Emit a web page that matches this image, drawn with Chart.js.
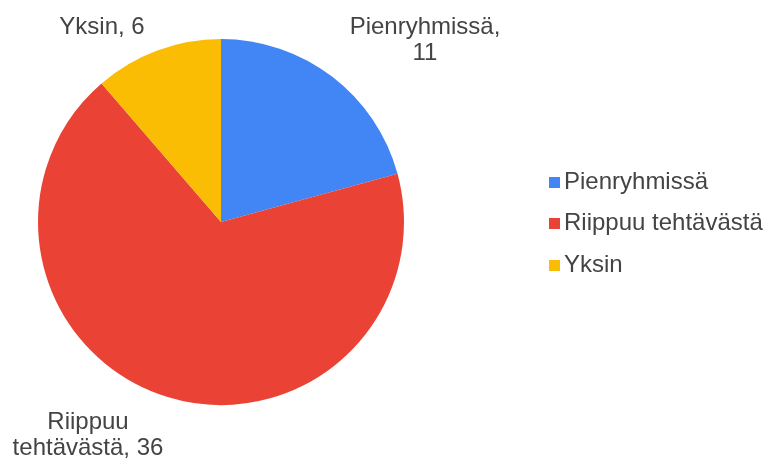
<!DOCTYPE html>
<html><head><meta charset="utf-8">
<script src="https://cdn.jsdelivr.net/npm/chart.js@4"></script>
<style>html,body{margin:0;padding:0;background:#fff}#wrap{width:765px;height:460px}</style>
</head><body><div id="wrap"><canvas id="c" width="765" height="460"></canvas></div>
<script>
const categories = ["Pienryhmissä", "Riippuu tehtävästä", "Yksin"];
const values = [11, 36, 6];
const colors = ["#4285F4", "#EA4335", "#FBBC04"];
const dataLabelLines = [["Pienryhmissä,", "11"], ["Riippuu", "tehtävästä, 36"], ["Yksin, 6"]];

const FONT = '24px "Liberation Sans", Arial, sans-serif';

const labelPlugin = {
  id: 'outLabels',
  afterDraw(chart) {
    const ctx = chart.ctx;
    const meta = chart.getDatasetMeta(0);
    ctx.save();
    ctx.font = FONT;
    ctx.fillStyle = '#444';
    ctx.textAlign = 'center';
    ctx.textBaseline = 'middle';
    const pos = [[425, 27], [88, 422], [102, 27]];
    meta.data.forEach((arc, i) => {
      const lines = dataLabelLines[i];
      const p = pos[i];
      lines.forEach((ln, j) => ctx.fillText(ln, p[0], p[1] + j * 26));
    });
    // legend
    const ly = [182, 223, 265];
    ctx.textAlign = 'left';
    categories.forEach((c, i) => {
      ctx.fillStyle = colors[i];
      ctx.fillRect(549, ly[i] - 5, 11, 11);
      ctx.fillStyle = '#444';
      ctx.fillText(c, 564, ly[i]);
    });
    ctx.restore();
  }
};

new Chart(document.getElementById('c'), {
  type: 'pie',
  data: {
    labels: categories,
    datasets: [{ data: values, backgroundColor: colors, borderWidth: 0 }]
  },
  options: {
    responsive: false,
    animation: false,
    layout: { padding: { left: 38, right: 361, top: 39, bottom: 55 } },
    plugins: { legend: { display: false }, tooltip: { enabled: false } }
  },
  plugins: [labelPlugin]
});
</script>
</body></html>
